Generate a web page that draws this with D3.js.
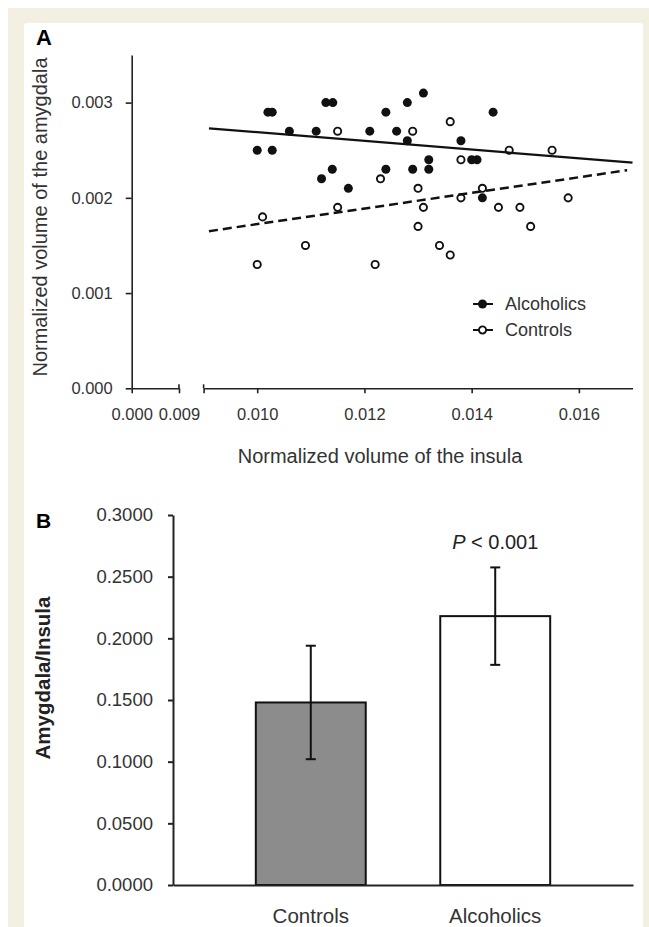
<!DOCTYPE html>
<html>
<head>
<meta charset="utf-8">
<script src="https://cdn.jsdelivr.net/npm/d3@7"></script>
<style>
    html, body { margin: 0; padding: 0; background: #fff; }
    svg { display: block; }
    .axis path, .axis line { stroke: #222; }
    .axis text { fill: #333; font-family: "Liberation Sans", Arial, sans-serif; }
</style>
</head>
<body>
<div id="chart"></div>
<script>
// panel A: scatter, normalized volumes
const alcoholicsX = [0.0100, 0.0102, 0.01028, 0.01028, 0.0106, 0.0111, 0.0112, 0.01128, 0.01141, 0.0114,
    0.0117, 0.0121, 0.0124, 0.0124, 0.0126, 0.0128, 0.0128, 0.0129, 0.0131, 0.0132,
    0.0132, 0.0138, 0.0140, 0.0141, 0.0142, 0.0144];
const alcoholicsY = [0.0025, 0.0029, 0.0029, 0.0025, 0.0027, 0.0027, 0.0022, 0.0030, 0.0030, 0.0023,
    0.0021, 0.0027, 0.0029, 0.0023, 0.0027, 0.0030, 0.0026, 0.0023, 0.0031, 0.0024,
    0.0023, 0.0026, 0.0024, 0.0024, 0.0020, 0.0029];
const controlsX = [0.0100, 0.0101, 0.0109, 0.0115, 0.0115, 0.0122, 0.0123, 0.0129, 0.0130, 0.0130,
    0.0131, 0.0134, 0.0136, 0.0136, 0.0138, 0.0138, 0.0142, 0.0145, 0.0147, 0.0149,
    0.0151, 0.0155, 0.0158];
const controlsY = [0.0013, 0.0018, 0.0015, 0.0027, 0.0019, 0.0013, 0.0022, 0.0027, 0.0021, 0.0017,
    0.0019, 0.0015, 0.0028, 0.0014, 0.0024, 0.0020, 0.0021, 0.0019, 0.0025, 0.0019,
    0.0017, 0.0025, 0.0020];
// trend lines (end points)
const alcoholicsFit = [[0.0091, 0.00273], [0.0170, 0.00237]];
const controlsFit = [[0.0091, 0.00165], [0.0169, 0.00229]];

const yTicksA = [0, 0.001, 0.002, 0.003];
const xTicksBreak = [0, 0.009];
const xTicksMain = [0.009, 0.010, 0.012, 0.014, 0.016];
const xLabelsMain = [0.010, 0.012, 0.014, 0.016];

// panel B: ratio bars
const groups = ['Controls', 'Alcoholics'];
const ratioMeans = [0.148, 0.218];
const ratioErrors = [0.046, 0.0395];
const yTicksB = [0, 0.05, 0.10, 0.15, 0.20, 0.25, 0.30];

const W = 649, H = 927;
const FONT = '"Liberation Sans", Arial, sans-serif';

let svg = d3.select('#chart').append('svg')
    .attr('width', W)
    .attr('height', H);

// frame
svg.append('rect').attr('width', W).attr('height', H).attr('fill', '#fff');
svg.append('rect')
    .attr('x', 8).attr('y', 8)
    .attr('width', W - 8).attr('height', H - 8)
    .attr('fill', '#f3f0e2');
svg.append('rect')
    .attr('x', 24).attr('y', 23)
    .attr('width', 619).attr('height', H)
    .attr('rx', 3)
    .attr('fill', '#fff');

drawScatter(svg.append('g').attr('class', 'panel-a'));
drawBars(svg.append('g').attr('class', 'panel-b'));

function drawScatter(g) {
    let xLeft = d3.scaleLinear().domain([0, 0.009]).range([131.7, 179]);
    let x = d3.scaleLinear().domain([0.009, 0.017]).range([203.6, 632.5]);
    let y = d3.scaleLinear().domain([0, 0.0035]).range([388.3, 55]);
    let y0 = y(0);

    g.append('text')
        .attr('x', 36).attr('y', 45)
        .attr('font-family', FONT).attr('font-weight', 'bold').attr('font-size', 22)
        .text('A');

    // y axis
    g.append('g')
        .attr('class', 'axis')
        .attr('transform', 'translate(' + xLeft(0) + ',0)')
        .call(d3.axisLeft(y).tickValues(yTicksA).tickFormat(d3.format('.3f'))
            .tickSize(6).tickSizeOuter(0).tickPadding(13))
        .call(a => a.selectAll('path, line').attr('stroke-width', 1.6))
        .call(a => a.selectAll('text').attr('font-size', 16.5));

    // broken x axis, left piece
    g.append('g')
        .attr('class', 'axis')
        .attr('transform', 'translate(0,' + y0 + ')')
        .call(d3.axisBottom(xLeft).tickValues(xTicksBreak).tickFormat(d3.format('.3f'))
            .tickSize(5).tickSizeOuter(0).tickPadding(15))
        .call(a => a.selectAll('path, line').attr('stroke-width', 1.6))
        .call(a => a.selectAll('text').attr('font-size', 16.5));

    // main piece
    g.append('g')
        .attr('class', 'axis')
        .attr('transform', 'translate(0,' + y0 + ')')
        .call(d3.axisBottom(x).tickValues(xTicksMain)
            .tickFormat(d => xLabelsMain.includes(d) ? d3.format('.3f')(d) : '')
            .tickSize(5).tickSizeOuter(0).tickPadding(15))
        .call(a => a.selectAll('path, line').attr('stroke-width', 1.6))
        .call(a => a.selectAll('text').attr('font-size', 16.5));

    // break ticks reach above the axis too
    g.selectAll('line.break')
        .data([xLeft(0.009), x(0.009)])
        .enter().append('line')
        .attr('class', 'break')
        .attr('x1', d => d).attr('x2', d => d)
        .attr('y1', y0 - 4).attr('y2', y0)
        .attr('stroke', '#222').attr('stroke-width', 1.6);

    g.append('text')
        .attr('x', 380).attr('y', 463)
        .attr('text-anchor', 'middle')
        .attr('font-family', FONT).attr('font-size', 20).attr('fill', '#333')
        .text('Normalized volume of the insula');

    g.append('text')
        .attr('transform', 'translate(47,217) rotate(-90)')
        .attr('text-anchor', 'middle')
        .attr('font-family', FONT).attr('font-size', 20).attr('fill', '#333')
        .text('Normalized volume of the amygdala');

    // points
    g.selectAll('circle.ctrl')
        .data(d3.zip(controlsX, controlsY))
        .enter().append('circle')
        .attr('class', 'ctrl')
        .attr('cx', d => x(d[0])).attr('cy', d => y(d[1]))
        .attr('r', 3.6)
        .attr('fill', '#fff').attr('stroke', '#111').attr('stroke-width', 1.9);

    g.selectAll('circle.alc')
        .data(d3.zip(alcoholicsX, alcoholicsY))
        .enter().append('circle')
        .attr('class', 'alc')
        .attr('cx', d => x(d[0])).attr('cy', d => y(d[1]))
        .attr('r', 4.5)
        .attr('fill', '#111');

    let line = d3.line().x(d => x(d[0])).y(d => y(d[1]));
    g.append('path')
        .attr('d', line(alcoholicsFit))
        .attr('fill', 'none').attr('stroke', '#111').attr('stroke-width', 2.2);
    g.append('path')
        .attr('d', line(controlsFit))
        .attr('fill', 'none').attr('stroke', '#111').attr('stroke-width', 2.5)
        .attr('stroke-dasharray', '9,5');

    // legend
    let legend = g.append('g').attr('transform', 'translate(473,304)');
    [['Alcoholics', true], ['Controls', false]].forEach((item, i) => {
        let row = legend.append('g').attr('transform', 'translate(0,' + (i * 26) + ')');
        row.append('line')
            .attr('x1', 0).attr('x2', 20)
            .attr('stroke', '#111').attr('stroke-width', 2);
        row.append('circle')
            .attr('cx', 9.5).attr('r', item[1] ? 4.5 : 3.6)
            .attr('fill', item[1] ? '#111' : '#fff')
            .attr('stroke', '#111').attr('stroke-width', item[1] ? 0 : 1.9);
        row.append('text')
            .attr('x', 32).attr('dy', '0.35em')
            .attr('font-family', FONT).attr('font-size', 18).attr('fill', '#333')
            .text(item[0]);
    });
}

function drawBars(g) {
    let x = d3.scaleBand().domain(groups).range([173, 633])
        .paddingInner(0.404).paddingOuter(0.449);
    let y = d3.scaleLinear().domain([0, 0.3]).range([885, 515]);

    g.append('text')
        .attr('x', 36).attr('y', 528)
        .attr('font-family', FONT).attr('font-weight', 'bold').attr('font-size', 21)
        .text('B');

    g.append('g')
        .attr('class', 'axis')
        .attr('transform', 'translate(173,0)')
        .call(d3.axisLeft(y).tickValues(yTicksB).tickFormat(d3.format('.4f'))
            .tickSize(5).tickSizeOuter(0).tickPadding(15))
        .call(a => a.selectAll('path, line').attr('stroke-width', 2))
        .call(a => a.selectAll('text').attr('font-size', 18.5));

    g.append('text')
        .attr('transform', 'translate(50,678) rotate(-90)')
        .attr('text-anchor', 'middle')
        .attr('font-family', FONT).attr('font-weight', 'bold').attr('font-size', 20.5).attr('fill', '#222')
        .text('Amygdala/Insula');

    let data = groups.map((k, i) => ({ key: k, mean: ratioMeans[i], err: ratioErrors[i] }));

    g.selectAll('rect.bar')
        .data(data)
        .enter().append('rect')
        .attr('class', 'bar')
        .attr('x', d => x(d.key))
        .attr('y', d => y(d.mean))
        .attr('width', x.bandwidth())
        .attr('height', d => y(0) - y(d.mean))
        .attr('fill', (d, i) => i == 0 ? '#8c8c8c' : '#fff')
        .attr('stroke', '#111').attr('stroke-width', 2);

    // x axis on top of the bars
    g.append('g')
        .attr('class', 'axis')
        .attr('transform', 'translate(0,' + y(0) + ')')
        .call(d3.axisBottom(x).tickSize(0).tickPadding(23))
        .call(a => a.select('.domain').attr('stroke-width', 2.2))
        .call(a => a.selectAll('text').attr('font-size', 20.5));

    let cx = d => x(d.key) + x.bandwidth() / 2;
    let err = g.selectAll('g.err').data(data).enter().append('g').attr('class', 'err');
    err.append('line')
        .attr('x1', cx).attr('x2', cx)
        .attr('y1', d => y(d.mean + d.err)).attr('y2', d => y(d.mean - d.err));
    err.append('line')
        .attr('x1', d => cx(d) - 5).attr('x2', d => cx(d) + 5)
        .attr('y1', d => y(d.mean + d.err)).attr('y2', d => y(d.mean + d.err));
    err.append('line')
        .attr('x1', d => cx(d) - 5).attr('x2', d => cx(d) + 5)
        .attr('y1', d => y(d.mean - d.err)).attr('y2', d => y(d.mean - d.err));
    err.selectAll('line').attr('stroke', '#111').attr('stroke-width', 2);

    let p = g.append('text')
        .attr('x', cx(data[1])).attr('y', 549)
        .attr('text-anchor', 'middle')
        .attr('font-family', FONT).attr('font-size', 20).attr('fill', '#222');
    p.append('tspan').attr('font-style', 'italic').text('P');
    p.append('tspan').text(' < 0.001');
}
</script>
</body>
</html>
